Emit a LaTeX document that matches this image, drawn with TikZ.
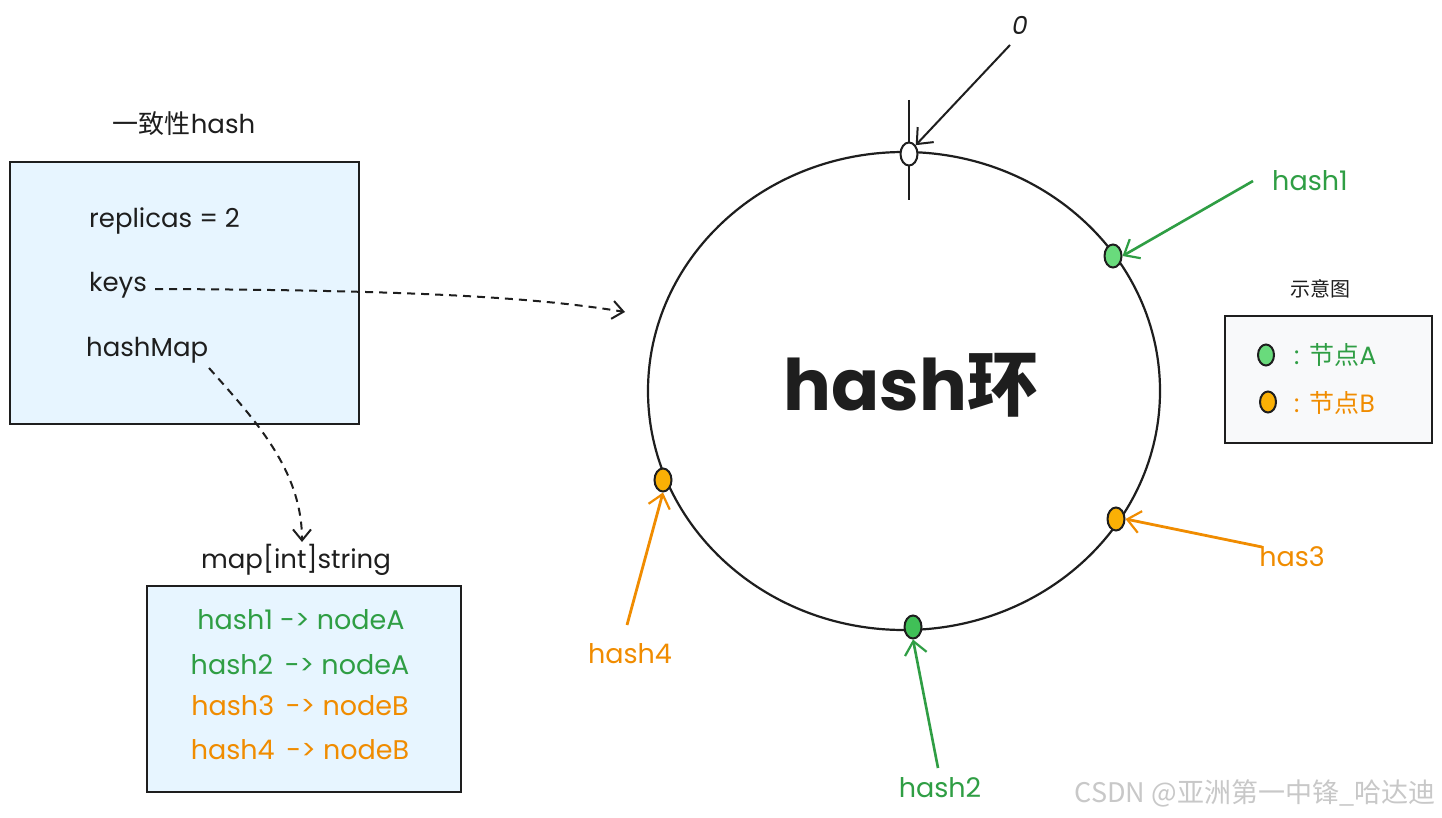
\documentclass[tikz,border=0pt]{standalone}
\usepackage{fontspec}
\setmainfont{Poppins}
\newfontfamily\cjk{Noto Sans CJK SC}
\usetikzlibrary{shapes.geometric,arrows.meta}
\definecolor{ink}{HTML}{1E1E1E}
\definecolor{grn}{HTML}{2F9E44}
\definecolor{org}{HTML}{F08C00}
\definecolor{boxblue}{HTML}{E7F5FF}
\definecolor{legbg}{HTML}{F8F9FA}
\definecolor{dotg}{HTML}{69DB7C}
\definecolor{dotgd}{HTML}{40C057}
\definecolor{doto}{HTML}{FAB005}
\definecolor{wm}{HTML}{C8C8C8}
\tikzset{
  panel/.style={draw=ink, line width=2pt, inner sep=0pt},
  dot/.style={ellipse, draw=ink, line width=2pt, minimum width=17pt, minimum height=23pt, inner sep=0pt},
  lbl/.style={font=\fontsize{26}{30}\selectfont, text=ink, inner sep=0pt},
  glbl/.style={font=\fontsize{27}{31}\selectfont, text=grn, inner sep=0pt},
  olbl/.style={font=\fontsize{27}{31}\selectfont, text=org, inner sep=0pt},
  garrow/.style={draw=grn, line width=2.6pt, -{Straight Barb[length=13pt,width=22pt,line width=2.2pt]}},
  oarrow/.style={draw=org, line width=2.8pt, -{Straight Barb[length=13pt,width=22pt,line width=2.2pt]}},
  karrow/.style={draw=ink, line width=2pt, -{Straight Barb[length=13pt,width=22pt,line width=2pt]}},
  dasharrow/.style={draw=ink, line width=2pt, dash pattern=on 8pt off 6pt, -{Straight Barb[length=11pt,width=18pt,line width=2pt]}},
}
\begin{document}
\begin{tikzpicture}[x=1pt,y=-1pt]
\useasboundingbox[fill=white] (0,0) rectangle (1442,818);

% left panel
\node[lbl] (t1) at (184,124) {{\cjk 一致性}hash};
\node[panel, fill=boxblue, minimum width=349pt, minimum height=262pt] (mainbox) at (184.5,293) {};
\node[lbl, anchor=west] (rep) at (89,221) {replicas = 2};
\node[lbl, anchor=west] (keys) at (89,285) {keys};
\node[lbl, anchor=west] (hm) at (86,350) {hashMap};

% map panel
\node[lbl] (mt) at (296,560) {map[int]string};
\node[panel, fill=boxblue, minimum width=314pt, minimum height=206pt] (mapbox) at (304,689) {};
\node[glbl] (m1) at (301,620) {hash1 -> nodeA};
\node[glbl] (m2) at (300,665) {hash2 \,-> nodeA};
\node[olbl] (m3) at (300,706) {hash3 \,-> nodeB};
\node[olbl] (m4) at (300,750) {hash4 \,-> nodeB};

% ring
\draw[draw=ink, line width=2.2pt] (904,391) ellipse [x radius=256pt, y radius=239pt];
\node[font=\fontsize{71}{77}\selectfont\bfseries, text=ink] (ring) at (911,385) {hash{\cjk\bfseries 环}};

% zero marker
\coordinate (crossT) at (909,100);
\coordinate (crossB) at (909,200);
\draw[draw=ink, line width=1.8pt] (crossT) -- (crossB);
\node[dot, fill=white] (n0) at (909,154) {};
\node[lbl, font=\fontsize{25}{29}\selectfont\itshape] (zero) at (1020,25) {0};
\coordinate (z0) at (1010,45);
\draw[karrow] (z0) -- (n0.north east);

% nodes on ring
\node[dot, fill=dotg] (n1) at (1113,256) {};
\node[dot, fill=doto] (n3) at (1116,519) {};
\node[dot, fill=dotgd] (n2) at (913,627) {};
\node[dot, fill=doto] (n4) at (663,480) {};

% labels and arrows
\node[glbl] (h1) at (1310,181) {hash1};
\coordinate (a1) at (1253,181);
\draw[garrow] (a1) -- (n1.east);

\node[olbl] (h3) at (1292,557) {has3};
\coordinate (a3) at (1262,547);
\draw[oarrow] (a3) -- (n3.east);

\node[glbl] (h2) at (940,788) {hash2};
\coordinate (a2) at (938,768);
\draw[garrow] (a2) -- (n2.south);

\node[olbl] (h4) at (630,654) {hash4};
\coordinate (a4) at (627,625);
\draw[oarrow] (a4) -- (n4.south);

% dashed connectors
\coordinate (kend) at (625,312);
\draw[dasharrow] (keys.east) ++(8,4) .. controls (420,290) and (540,298) .. (kend);
\coordinate (hmstart) at (209,368);
\coordinate (hmend) at (302,542);
\draw[dasharrow] (hmstart) .. controls (255,420) and (302,470) .. (hmend);

% legend
\node[lbl, font=\cjk\fontsize{20}{24}\selectfont] (lt) at (1320,289) {示意图};
\node[panel, fill=legbg, minimum width=207pt, minimum height=127pt] (legbox) at (1328.5,379.5) {};
\node[dot, fill=dotg, minimum width=16pt, minimum height=21pt] (lg) at (1266,355) {};
\node[dot, fill=doto, minimum width=16pt, minimum height=21pt] (lo) at (1268,402) {};
\node[glbl, anchor=west, font=\fontsize{25}{29}\selectfont] (la) at (1294,355) {:\hspace{10pt}{\cjk 节点}A};
\node[olbl, anchor=west, font=\fontsize{25}{29}\selectfont] (lb) at (1294,403) {:\hspace{10pt}{\cjk 节点}B};

% watermark
\node[font=\cjk\fontsize{27}{31}\selectfont, text=wm, inner sep=0pt] (wmk) at (1255,793) {CSDN @亚洲第一中锋\_哈达迪};
\end{tikzpicture}
\end{document}
